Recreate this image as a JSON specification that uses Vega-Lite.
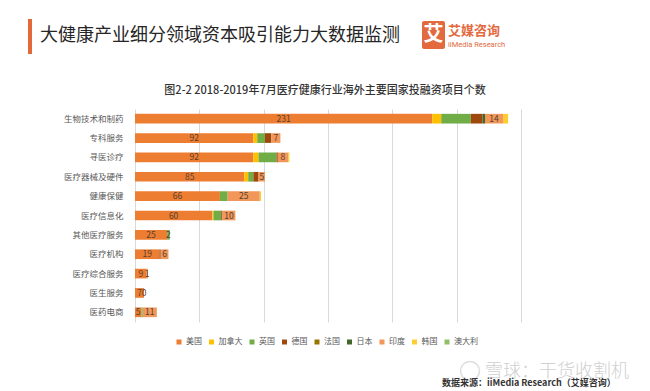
{
  "$schema": "https://vega.github.io/schema/vega-lite/v6.json",
  "autosize": "none",
  "width": 386,
  "height": 213,
  "padding": {"left": 135, "top": 109, "right": 129, "bottom": 69},
  "background": "white",
  "config": {
    "view": {"stroke": null},
    "font": "Noto Sans CJK SC"
  },
  "datasets": {
    "countries": [
      {"country": "美国", "idx": 1},
      {"country": "加拿大", "idx": 2},
      {"country": "英国", "idx": 3},
      {"country": "德国", "idx": 4},
      {"country": "法国", "idx": 5},
      {"country": "日本", "idx": 6},
      {"country": "印度", "idx": 7},
      {"country": "韩国", "idx": 8},
      {"country": "澳大利", "idx": 9}
    ],
    "invest": [
      {"category": "生物技术和制药", "country": "美国", "value": 231},
      {"category": "生物技术和制药", "country": "加拿大", "value": 7},
      {"category": "生物技术和制药", "country": "英国", "value": 23},
      {"category": "生物技术和制药", "country": "德国", "value": 9},
      {"category": "生物技术和制药", "country": "日本", "value": 2},
      {"category": "生物技术和制药", "country": "印度", "value": 14},
      {"category": "生物技术和制药", "country": "韩国", "value": 4},
      {"category": "专科服务", "country": "美国", "value": 92},
      {"category": "专科服务", "country": "加拿大", "value": 3},
      {"category": "专科服务", "country": "英国", "value": 6},
      {"category": "专科服务", "country": "德国", "value": 5},
      {"category": "专科服务", "country": "印度", "value": 7},
      {"category": "寻医诊疗", "country": "美国", "value": 92},
      {"category": "寻医诊疗", "country": "加拿大", "value": 4},
      {"category": "寻医诊疗", "country": "英国", "value": 14},
      {"category": "寻医诊疗", "country": "德国", "value": 1},
      {"category": "寻医诊疗", "country": "印度", "value": 8},
      {"category": "寻医诊疗", "country": "韩国", "value": 1},
      {"category": "医疗器械及硬件", "country": "美国", "value": 85},
      {"category": "医疗器械及硬件", "country": "加拿大", "value": 3},
      {"category": "医疗器械及硬件", "country": "英国", "value": 4},
      {"category": "医疗器械及硬件", "country": "德国", "value": 4},
      {"category": "医疗器械及硬件", "country": "印度", "value": 5},
      {"category": "健康保健", "country": "美国", "value": 66},
      {"category": "健康保健", "country": "英国", "value": 6},
      {"category": "健康保健", "country": "印度", "value": 25},
      {"category": "健康保健", "country": "韩国", "value": 1},
      {"category": "医疗信息化", "country": "美国", "value": 60},
      {"category": "医疗信息化", "country": "加拿大", "value": 1},
      {"category": "医疗信息化", "country": "英国", "value": 6},
      {"category": "医疗信息化", "country": "德国", "value": 1},
      {"category": "医疗信息化", "country": "印度", "value": 10},
      {"category": "其他医疗服务", "country": "美国", "value": 25},
      {"category": "其他医疗服务", "country": "英国", "value": 2},
      {"category": "医疗机构", "country": "美国", "value": 19},
      {"category": "医疗机构", "country": "德国", "value": 1},
      {"category": "医疗机构", "country": "印度", "value": 6},
      {"category": "医疗综合服务", "country": "美国", "value": 9},
      {"category": "医疗综合服务", "country": "印度", "value": 1},
      {"category": "医生服务", "country": "美国", "value": 7},
      {"category": "医生服务", "country": "印度", "value": 0},
      {"category": "医药电商", "country": "美国", "value": 5},
      {"category": "医药电商", "country": "英国", "value": 1},
      {"category": "医药电商", "country": "印度", "value": 11}
    ]
  },
  "layer": [
    {
      "data": {"name": "invest"},
      "transform": [
        {"lookup": "country", "from": {"data": {"name": "countries"}, "key": "country", "fields": ["idx"]}},
        {"stack": "value", "groupby": ["category"], "sort": [{"field": "idx", "order": "ascending"}], "as": ["v0", "v1"]},
        {"calculate": "(datum.v0 + datum.v1) / 2", "as": "mid"}
      ],
      "layer": [
        {
          "mark": {"type": "bar"},
          "encoding": {
            "x": {
              "field": "v0", "type": "quantitative",
              "scale": {"domain": [0, 300], "nice": false},
              "axis": {"values": [0, 50, 100, 150, 200, 250, 300], "grid": true, "gridColor": "#d9d9d9", "gridWidth": 1, "labels": false, "ticks": false, "domain": false, "title": null}
            },
            "x2": {"field": "v1"},
            "y": {
              "field": "category", "type": "nominal",
              "sort": ["生物技术和制药", "专科服务", "寻医诊疗", "医疗器械及硬件", "健康保健", "医疗信息化", "其他医疗服务", "医疗机构", "医疗综合服务", "医生服务", "医药电商"],
              "scale": {"paddingInner": 0.5, "paddingOuter": 0.25},
              "axis": {"title": null, "domain": false, "ticks": false, "labelPadding": 12, "labelFontSize": 8.5, "labelColor": "#595959", "labelFont": "Noto Sans CJK SC"}
            },
            "color": {
              "field": "country", "type": "nominal",
              "scale": {
                "domain": ["美国", "加拿大", "英国", "德国", "法国", "日本", "印度", "韩国", "澳大利"],
                "range": ["#ED7D31", "#FFC000", "#70AD47", "#9E480E", "#997300", "#43682B", "#F1975A", "#FFCD33", "#8CC168"]
              },
              "legend": {
                "title": null, "orient": "none", "direction": "horizontal",
                "legendX": 40, "legendY": 229, "gridAlign": "none",
                "symbolType": "square", "symbolSize": 25, "symbolStrokeWidth": 0,
                "labelFontSize": 8, "labelColor": "#595959", "labelFont": "Noto Sans CJK SC",
                "labelOffset": 3, "columnPadding": 5.5
              }
            }
          }
        },
        {
          "transform": [
            {"filter": "datum.country === '美国' || datum.country === '印度' || (datum.category === '其他医疗服务' && datum.country === '英国')"}
          ],
          "mark": {"type": "text", "fontSize": 8.5, "color": "#5a4030", "font": "Noto Sans CJK SC", "baseline": "middle", "align": "center"},
          "encoding": {
            "x": {"field": "mid", "type": "quantitative"},
            "y": {"field": "category", "type": "nominal", "sort": ["生物技术和制药", "专科服务", "寻医诊疗", "医疗器械及硬件", "健康保健", "医疗信息化", "其他医疗服务", "医疗机构", "医疗综合服务", "医生服务", "医药电商"]},
            "text": {"field": "value", "type": "quantitative"}
          }
        }
      ]
    },
    {
      "data": {"values": [{}]},
      "mark": {"type": "text", "text": "图2-2 2018-2019年7月医疗健康行业海外主要国家投融资项目个数", "fontSize": 11, "font": "Noto Sans CJK SC", "fontWeight": 500, "color": "#333333", "align": "center", "baseline": "middle"},
      "encoding": {"x": {"value": 190}, "y": {"value": -18}}
    },
    {
      "data": {"values": [{}]},
      "mark": {"type": "rule", "color": "#E4693A", "strokeWidth": 4},
      "encoding": {"x": {"value": -105}, "y": {"value": -90}, "y2": {"value": -55}}
    },
    {
      "data": {"values": [{}]},
      "mark": {"type": "text", "text": "大健康产业细分领域资本吸引能力大数据监测", "fontSize": 18, "font": "Noto Sans CJK SC", "fontWeight": 400, "color": "#262626", "align": "left", "baseline": "middle"},
      "encoding": {"x": {"value": -95}, "y": {"value": -73}}
    },
    {
      "data": {"values": [{}]},
      "mark": {"type": "rect", "color": "#E26A3E", "cornerRadius": 2},
      "encoding": {"x": {"value": 287}, "x2": {"value": 310}, "y": {"value": -88}, "y2": {"value": -60}}
    },
    {
      "data": {"values": [{}]},
      "mark": {"type": "text", "text": "艾", "fontSize": 20, "font": "Noto Sans CJK SC", "fontWeight": "bold", "color": "white", "align": "center", "baseline": "middle"},
      "encoding": {"x": {"value": 298.5}, "y": {"value": -74}}
    },
    {
      "data": {"values": [{}]},
      "mark": {"type": "text", "text": "艾媒咨询", "fontSize": 13, "font": "Noto Sans CJK SC", "fontWeight": "bold", "color": "#E26A3E", "align": "left", "baseline": "middle"},
      "encoding": {"x": {"value": 313}, "y": {"value": -78}}
    },
    {
      "data": {"values": [{}]},
      "mark": {"type": "text", "text": "iiMedia Research", "fontSize": 7.5, "font": "Roboto", "color": "#E26A3E", "align": "left", "baseline": "middle"},
      "encoding": {"x": {"value": 313}, "y": {"value": -64}}
    },
    {
      "data": {"values": [{}]},
      "mark": {"type": "point", "shape": "circle", "size": 360, "filled": false, "color": "#d0d0d0", "strokeWidth": 1.5},
      "encoding": {"x": {"value": 335}, "y": {"value": 262}}
    },
    {
      "data": {"values": [{}]},
      "mark": {"type": "text", "text": "雪球：干货收割机", "fontSize": 18, "font": "Noto Sans CJK SC", "fontWeight": 300, "color": "#d0d0d0", "align": "left", "baseline": "middle"},
      "encoding": {"x": {"value": 350}, "y": {"value": 263}}
    },
    {
      "data": {"values": [{}]},
      "mark": {"type": "text", "text": "数据来源：iiMedia Research（艾媒咨询）", "fontSize": 9, "font": "Noto Sans CJK SC", "fontWeight": "bold", "color": "#333333", "align": "left", "baseline": "middle"},
      "encoding": {"x": {"value": 307}, "y": {"value": 274}}
    }
  ]
}
